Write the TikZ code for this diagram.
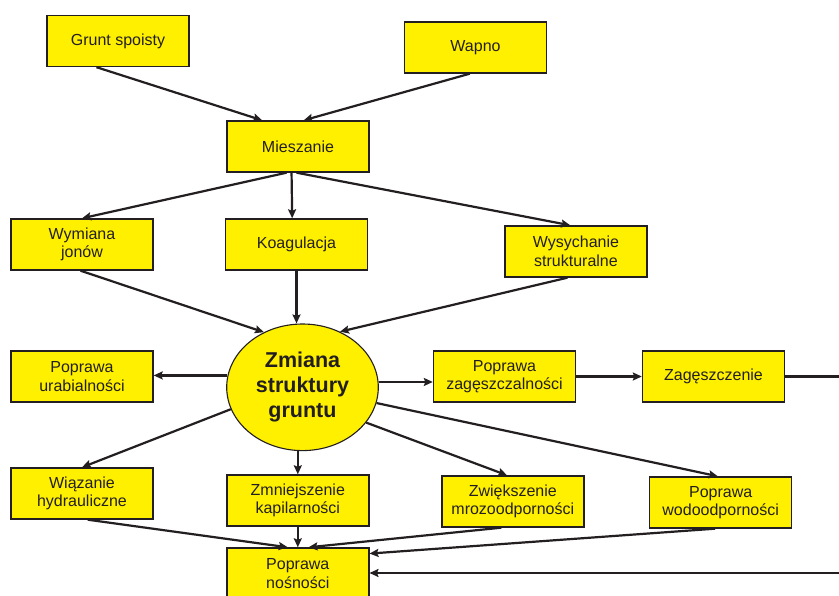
\documentclass[tikz,border=0pt]{standalone}
\usepackage{fontspec}
\setmainfont{Liberation Sans}
\usetikzlibrary{arrows.meta,shapes.geometric,calc}
\definecolor{boxyellow}{RGB}{255,240,0}
\definecolor{ink}{RGB}{35,31,32}
\tikzset{
  box/.style={draw=ink, line width=1.4pt, fill=boxyellow, minimum width=142pt, minimum height=51pt,
    inner sep=0pt, align=center, font=\fontsize{16pt}{18.5pt}\selectfont, text=ink},
  hub/.style={ellipse, draw=ink, line width=1.1pt, fill=boxyellow, minimum width=151.6pt, minimum height=126.6pt,
    inner sep=0pt, align=center, font=\fontsize{21.5pt}{25pt}\selectfont\bfseries, text=ink},
  conn/.style={draw=ink, line width=2.2pt, -{Stealth[length=9pt,width=8pt,inset=1.5pt]}},
  plain/.style={draw=ink, line width=2.2pt}
}
\begin{document}
\begin{tikzpicture}[x=1pt,y=-1pt]
\clip (0,0) rectangle (839,596);
\fill[white] (0,0) rectangle (839,596);
% nodes
\node[box] (gs)   at (118,41)    {Grunt spoisty};
\node[box] (wap)  at (475.5,47.5) {Wapno};
\node[box] (mie)  at (298,146.5) {Mieszanie};
\node[box] (wym)  at (82,244.5)  {Wymiana\\jonów};
\node[box] (koa)  at (296.5,244.5) {Koagulacja};
\node[box] (wys)  at (576,251.5) {Wysychanie\\strukturalne};
\node[hub] (ell)  at (302.5,387.3) {Zmiana\\struktury\\gruntu};
\node[box] (urab) at (82,376.5)  {Poprawa\\urabialności};
\node[box] (zag)  at (504.5,376.5) {Poprawa\\zagęszczalności};
\node[box] (zgs)  at (713.5,376.5) {Zagęszczenie};
\node[box] (wia)  at (82,493.5)  {Wiązanie\\hydrauliczne};
\node[box] (kap)  at (297.8,500.5) {Zmniejszenie\\kapilarności};
\node[box] (mroz) at (512.8,501.5) {Zwiększenie\\mrozoodporności};
\node[box] (wod)  at (720.7,502.5) {Poprawa\\wodoodporności};
\node[box] (nos)  at (297.8,573.5) {Poprawa\\nośności};
\coordinate (edgeA) at (850,376.5);
\coordinate (edgeB) at (850,573);
% connectors
\draw[conn] ($(gs.south west)!0.35!(gs.south east)$) -- ($(mie.north west)!0.25!(mie.north east)$);
\draw[conn] ($(wap.south west)!0.46!(wap.south east)$) -- ($(mie.north west)!0.54!(mie.north east)$);
\draw[conn] ($(mie.south west)!0.42!(mie.south east)$) -- ($(wym.north west)!0.5!(wym.north east)$);
\draw[conn] ($(mie.south west)!0.455!(mie.south east)$) -- ($(koa.north west)!0.47!(koa.north east)$);
\draw[conn] ($(mie.south west)!0.49!(mie.south east)$) -- ($(wys.north west)!0.46!(wys.north east)$);
\draw[conn] ($(wym.south west)!0.49!(wym.south east)$) -- (ell.125);
\draw[conn] (koa.south) -- (koa.south |- ell.north);
\draw[conn] ($(wys.south west)!0.44!(wys.south east)$) -- (ell.56);
\draw[conn] (ell.171) -- (ell.171 -| urab.east);
\draw[conn] (ell.4) -- (ell.4 -| zag.west);
\draw[conn] (zag.east) -- (zgs.west);
\draw[plain] (zgs.east) -- (edgeA);
\draw[conn] (ell.197.5) -- (wia.north);
\draw[conn] (ell.south -| kap.north) -- (kap.north);
\draw[conn] (ell.331.8) -- ($(mroz.north west)!0.46!(mroz.north east)$);
\draw[conn] (ell.348.6) -- ($(wod.north west)!0.48!(wod.north east)$);
\draw[conn] ($(wia.south west)!0.54!(wia.south east)$) -- ($(nos.north west)!0.43!(nos.north east)$);
\draw[conn] (kap.south) -- (nos.north);
\draw[conn] ($(mroz.south west)!0.42!(mroz.south east)$) -- ($(nos.north west)!0.575!(nos.north east)$);
\draw[conn] ($(wod.south west)!0.46!(wod.south east)$) -- ($(nos.north east)!0.12!(nos.south east)$);
\draw[conn] (edgeB) -- (edgeB -| nos.east);
\end{tikzpicture}
\end{document}
